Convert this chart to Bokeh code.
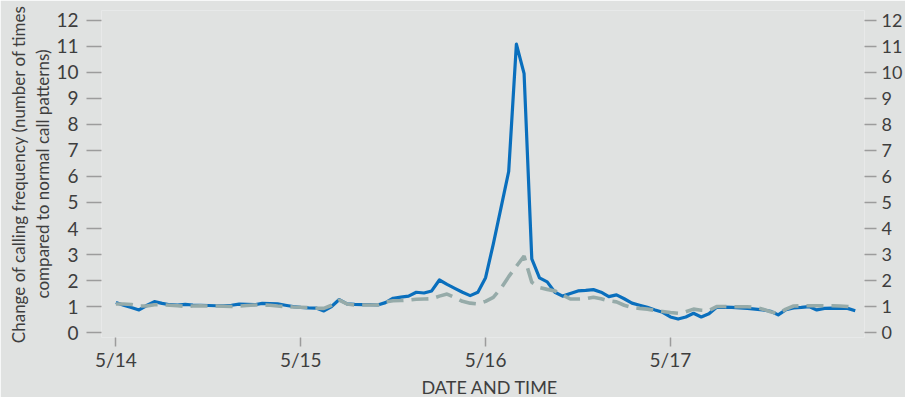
from bokeh.plotting import figure
from bokeh.models import LinearAxis, FixedTicker, Range1d, Title
from bokeh.embed import file_html
from bokeh.resources import INLINE

# ---- data (hourly, starting 5/14 00:00) ----
day_labels = ["5/14", "5/15", "5/16", "5/17"]
y_ticks = list(range(0, 13))
x_title = "DATE AND TIME"
y_title_lines = ["Change of calling frequency (number of times",
                 "compared to normal call patterns)"]

blue_values = [1.16, 1.05, 0.96, 0.87, 1.04, 1.19, 1.12, 1.07, 1.06, 1.08, 1.06, 1.05, 1.04,
               1.03, 1.03, 1.05, 1.09, 1.08, 1.07, 1.12, 1.11, 1.10, 1.05, 1.00, 0.97,
               0.95, 0.94, 0.83, 1.00, 1.27, 1.10, 1.08, 1.07, 1.07, 1.06, 1.15, 1.32,
               1.36, 1.40, 1.55, 1.52, 1.60, 2.02, 1.85, 1.70, 1.55, 1.42, 1.55, 2.11,
               3.40, 4.79, 6.19, 11.09, 9.95, 2.83, 2.10, 1.95, 1.55, 1.40, 1.50, 1.60,
               1.62, 1.65, 1.55, 1.38, 1.45, 1.30, 1.13, 1.05, 0.97, 0.87, 0.78, 0.60,
               0.52, 0.60, 0.74, 0.60, 0.72, 0.97, 0.98, 0.97, 0.95, 0.93, 0.90, 0.87,
               0.82, 0.68, 0.88, 0.95, 0.97, 1.00, 0.87, 0.93, 0.94, 0.93, 0.93, 0.84]

grey_values = [1.10, 1.10, 1.08, 1.02, 1.02, 1.07, 1.07, 1.05, 1.03, 1.01, 1.02, 1.03, 1.02,
               1.02, 1.01, 1.00, 1.02, 1.04, 1.06, 1.06, 1.05, 1.02, 1.00, 0.98, 0.97,
               0.96, 0.94, 0.93, 1.05, 1.25, 1.10, 1.06, 1.06, 1.06, 1.06, 1.18, 1.22,
               1.23, 1.25, 1.28, 1.29, 1.30, 1.40, 1.48, 1.35, 1.20, 1.13, 1.10, 1.20,
               1.35, 1.70, 2.15, 2.55, 2.94, 1.93, 1.73, 1.66, 1.60, 1.45, 1.29, 1.29,
               1.30, 1.36, 1.30, 1.22, 1.18, 1.05, 0.97, 0.93, 0.90, 0.85, 0.81, 0.77,
               0.74, 0.80, 0.90, 0.86, 0.85, 1.00, 1.00, 0.99, 0.99, 0.99, 0.98, 0.90,
               0.80, 0.72, 0.90, 1.02, 1.03, 1.03, 1.03, 1.03, 1.03, 1.02, 1.00, 0.97]

hours = list(range(len(blue_values)))
day_ticks = [24 * i for i in range(len(day_labels))]

BG = "#e0e2e1"
TEXT = "#3e3e3e"
TICK = "#9c9c9c"
FONT = "Lato"

p = figure(width=905, height=397, output_backend="svg", toolbar_location=None,
           x_range=Range1d(-1.87, 97.2), y_range=Range1d(-0.19, 12.38),
           min_border_left=101, min_border_right=38, min_border_top=10, min_border_bottom=58)
p.background_fill_color = BG
p.border_fill_color = BG
p.outline_line_color = None
p.grid.visible = False

p.line(hours, blue_values, line_color="#0a6fbd", line_width=3.2, line_join="round")
p.line(hours, grey_values, line_color="#96aba9", line_width=3.6, line_dash="17 8")

# x axis
xa = p.xaxis[0]
xa.ticker = FixedTicker(ticks=day_ticks)
xa.major_label_overrides = {t: l for t, l in zip(day_ticks, day_labels)}
xa.axis_line_color = None
xa.major_tick_line_color = TICK
xa.major_tick_line_width = 1.5
xa.major_tick_out = 9
xa.major_tick_in = 0
xa.minor_tick_line_color = None
xa.major_label_text_font = FONT
xa.major_label_text_font_size = "19px"
xa.major_label_text_color = TEXT
xa.major_label_standoff = 1


def style_y(ax, standoff, size, tick_out):
    ax.ticker = FixedTicker(ticks=y_ticks)
    ax.axis_line_color = None
    ax.major_tick_line_color = TICK
    ax.major_tick_line_width = 1.5
    ax.major_tick_out = tick_out
    ax.major_tick_in = 0
    ax.minor_tick_line_color = None
    ax.major_label_text_font = FONT
    ax.major_label_text_font_size = size
    ax.major_label_text_color = TEXT
    ax.major_label_standoff = standoff


style_y(p.yaxis[0], 8, "19px", 15)
yr = LinearAxis()
style_y(yr, 5, "18px", 12)
p.add_layout(yr, "right")

# axis titles (side-panel titles, outermost added last)
p.add_layout(Title(text=x_title, align="left", offset=320, standoff=0,
                   text_font=FONT, text_font_size="18px", text_font_style="normal",
                   text_color=TEXT), "below")
for line in reversed(y_title_lines):
    p.add_layout(Title(text=line, align="center", offset=-6, standoff=1,
                       text_font=FONT, text_font_size="17px", text_font_style="normal",
                       text_color=TEXT), "left")

open("out.html", "w").write(file_html(p, INLINE))
